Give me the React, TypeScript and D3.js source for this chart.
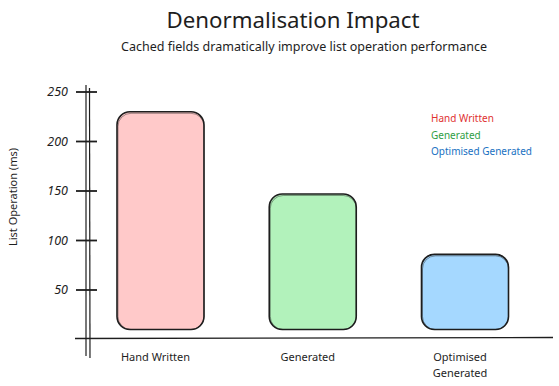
import React from "react";
import * as d3 from "d3";

// chart values
const categories = ["Hand Written", "Generated", "Optimised Generated"];
const listOpMs = [230, 147, 86];
const yTicks = [50, 100, 150, 200, 250];
const fills = ["#ffc9c9", "#b2f2bb", "#a5d8ff"];
const legendColors = ["#e03131", "#2f9e44", "#1971c2"];

const W = 559;
const H = 386;
const font = "'Comic Sans MS', 'Noto Sans', 'DejaVu Sans', sans-serif";
const ink = "#1e1e1e";

export default function App() {
  const x = d3.scalePoint<string>().domain(categories).range([160.5, 465]);
  const y = d3.scaleLinear().domain([0, 250]).range([339.5, 92]);
  const barW = 87;
  const base = y(0) - 10;

  // split long category names onto two lines
  const labelLines = (c: string) => (c === "Optimised Generated" ? ["Optimised", "Generated"] : [c]);

  return (
    <svg width={W} height={H} style={{ position: "absolute", left: 0, top: 0, background: "#fff" }}>
      <text x={293} y={28} textAnchor="middle" fontFamily={font} fontSize={21} fill={ink} textLength={253} lengthAdjust="spacingAndGlyphs">
        Denormalisation Impact
      </text>
      <text x={304} y={51} textAnchor="middle" fontFamily={font} fontSize={12} fill={ink} textLength={366} lengthAdjust="spacingAndGlyphs">
        Cached fields dramatically improve list operation performance
      </text>

      {/* y axis, drawn twice for the sketchy look */}
      <line x1={86} y1={85} x2={86} y2={356} stroke={ink} strokeWidth={1.2} />
      <line x1={89.5} y1={88} x2={90} y2={358} stroke={ink} strokeWidth={1.2} />
      {/* x axis */}
      <line x1={75} y1={338.5} x2={553} y2={337.5} stroke={ink} strokeWidth={1.4} />

      {yTicks.map((t) => (
        <g key={t}>
          <line x1={76} y1={y(t)} x2={97} y2={y(t)} stroke={ink} strokeWidth={1.8} />
          <text x={68} y={y(t) + 4} textAnchor="end" fontFamily={font} fontSize={12.5} fontStyle="italic" fill={ink}>
            {t}
          </text>
        </g>
      ))}

      <text
        transform="translate(17,197) rotate(-90)"
        textAnchor="middle"
        fontFamily={font}
        fontSize={11}
        fill={ink}
      >
        List Operation (ms)
      </text>

      {categories.map((c, i) => {
        const cx = x(c) as number;
        const top = y(listOpMs[i]);
        return (
          <g key={c}>
            <rect x={cx - barW / 2} y={top} width={barW} height={base - top} rx={13} fill={fills[i]} stroke={ink} strokeWidth={1.6} />
            <rect x={cx - barW / 2 + 1} y={top + 1.5} width={barW - 1} height={base - top - 1.5} rx={13} fill="none" stroke={ink} strokeWidth={0.6} opacity={0.7} />
            {labelLines(c).map((l, j) => (
              <text key={l} x={cx - 5} y={361 + j * 16} textAnchor="middle" fontFamily={font} fontSize={11} fill={ink}>
                {l}
              </text>
            ))}
          </g>
        );
      })}

      {categories.map((c, i) => (
        <text key={c} x={431} y={122 + i * 16.5} fontFamily={font} fontSize={10} fill={legendColors[i]}>
          {c}
        </text>
      ))}
    </svg>
  );
}
